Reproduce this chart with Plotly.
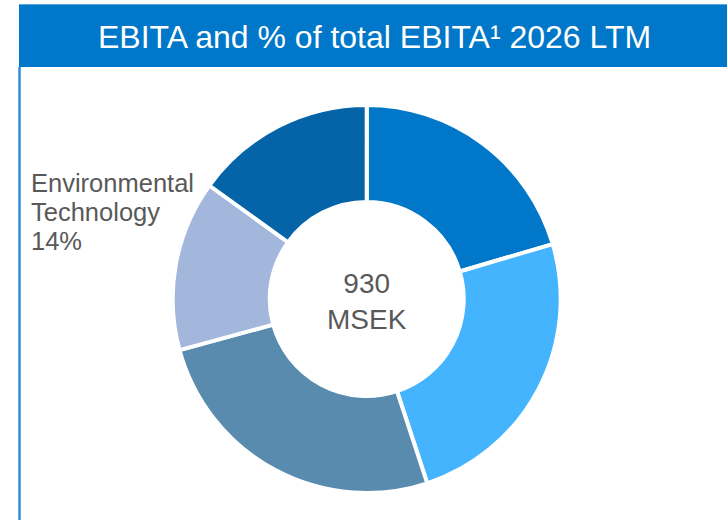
import plotly.graph_objects as go

W, H = 727, 520

segments = ["Segment A", "Segment B", "Segment C", "Environmental Technology", "Segment E"]
ebita_msek = [190, 228, 240, 132, 140]
colors = ["#0077C8", "#45B4FF", "#598BAE", "#A3B7DD", "#0563A8"]

title_text = "EBITA and % of total EBITA\u00b9 2026 LTM"
unit = "MSEK"
labelled = "Environmental Technology"

total = sum(ebita_msek)
share = ebita_msek[segments.index(labelled)] / total


def px(x):
    return x / W


def py(y):
    # y measured from top of page
    return 1 - y / H


cx, cy, r = 366.7, 299, 194

fig = go.Figure(go.Pie(
    labels=segments,
    values=ebita_msek,
    hole=0.5,
    sort=False,
    direction="clockwise",
    rotation=0,
    marker=dict(colors=colors, line=dict(color="white", width=4)),
    textinfo="none",
    hoverinfo="label+value+percent",
    showlegend=False,
    domain=dict(x=[px(cx - r), px(cx + r)], y=[py(cy + r), py(cy - r)]),
))

# label lines for the one annotated slice
label_lines = labelled.split(" ") + [f"{share:.0%}"]
label_anns = [
    dict(text=line, xref="paper", yref="paper",
         x=px(29), y=py(183 + 29 * i), xanchor="left", yanchor="middle",
         showarrow=False, font=dict(size=25.5, color="#595959"))
    for i, line in enumerate(label_lines)
]

fig.update_layout(
    width=W, height=H,
    margin=dict(l=0, r=0, t=0, b=0),
    paper_bgcolor="white",
    plot_bgcolor="white",
    font=dict(family="Liberation Sans, Arial, sans-serif", color="#595959"),
    shapes=[
        # title bar
        dict(type="rect", xref="paper", yref="paper",
             x0=px(19), x1=1, y0=py(67), y1=py(4),
             fillcolor="#0077C8", line=dict(width=0), layer="below"),
        dict(type="line", xref="paper", yref="paper",
             x0=px(19), x1=1, y0=py(4.5), y1=py(4.5),
             line=dict(color="#5AA6E0", width=1)),
        # left frame line
        dict(type="line", xref="paper", yref="paper",
             x0=px(19.5), x1=px(19.5), y0=py(67), y1=0,
             line=dict(color="#2E8BDB", width=2.5)),
    ],
    annotations=[
        dict(text=title_text, xref="paper", yref="paper",
             x=px(374), y=py(37), xanchor="center", yanchor="middle",
             showarrow=False, font=dict(size=32, color="white")),
        dict(text=f"{total:,.0f}<br>{unit}", xref="paper", yref="paper",
             x=px(cx), y=py(cy + 2), xanchor="center", yanchor="middle",
             showarrow=False, font=dict(size=28, color="#595959")),
    ] + label_anns,
)

fig.write_html("out.html", config={"displayModeBar": False},
               post_script="document.body.style.margin='0';")
